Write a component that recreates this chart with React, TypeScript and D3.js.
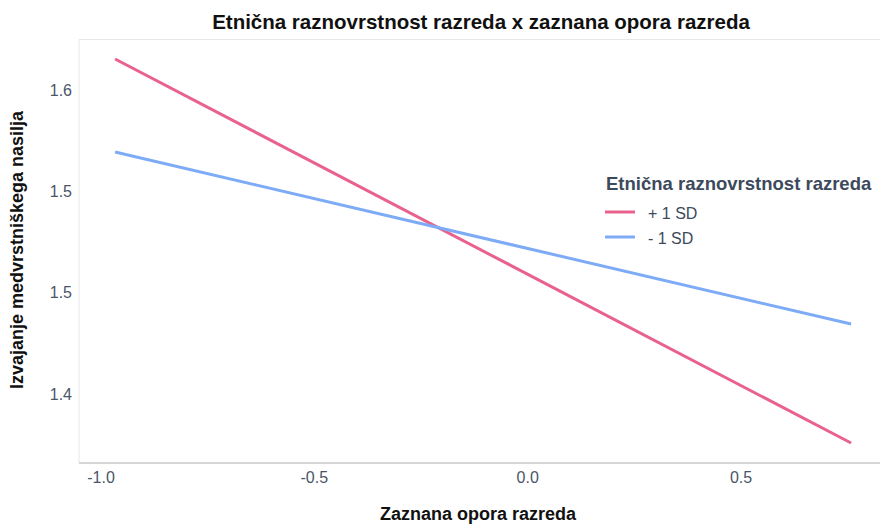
import React from "react";
import * as d3 from "d3";

const xValues = [-0.967, 0.758];
const seriesNames = ["+ 1 SD", "- 1 SD"];
const plusSD = [1.6153, 1.4258];
const minusSD = [1.5694, 1.4845];
const yTickValues = [1.6, 1.55, 1.5, 1.45];
const yTickLabels = ["1.6", "1.5", "1.5", "1.4"];
const xTickValues = [-1.0, -0.5, 0.0, 0.5];
const xTickLabels = ["-1.0", "-0.5", "0.0", "0.5"];
const colors = ["#e9628d", "#7eabf6"];

const W = 880, H = 524;
const left = 79, right = 880, top = 39.5, bottom = 463;

export default function App() {
  const x = d3.scaleLinear().domain([-1.0, 0.5]).range([101, 741]);
  const y = d3.scaleLinear().domain([1.6, 1.45]).range([90, 394]);
  const line = d3.line<[number, number]>().x(d => x(d[0])).y(d => y(d[1]));
  const series = [plusSD, minusSD];
  const font = "'Liberation Sans', Arial, sans-serif";
  return (
    <svg width={W} height={H} style={{ position: "absolute", left: 0, top: 0, background: "#fff" }} fontFamily={font}>
      <text x={481} y={29} textAnchor="middle" fontSize={20.5} fontWeight="bold" fill="#111">Etnična raznovrstnost razreda x zaznana opora razreda</text>
      <line x1={left} x2={right} y1={top} y2={top} stroke="#e6e6e6" strokeWidth={1} />
      <line x1={left} x2={left} y1={top} y2={bottom} stroke="#e6e6e6" strokeWidth={1} />
      <line x1={left} x2={right} y1={bottom} y2={bottom} stroke="#c9c9c9" strokeWidth={1.5} />
      {yTickValues.map((v, i) => (
        <text key={i} x={72} y={y(v)} dy="0.35em" textAnchor="end" fontSize={16} fill="#4a5668">{yTickLabels[i]}</text>
      ))}
      {xTickValues.map((v, i) => (
        <text key={i} x={x(v)} y={477} dy="0.35em" textAnchor="middle" fontSize={16} fill="#4a5668">{xTickLabels[i]}</text>
      ))}
      {series.map((s, i) => (
        <path key={i} d={line(xValues.map((xv, j) => [xv, s[j]]) as [number, number][]) || ""} stroke={colors[i]} strokeWidth={3} fill="none" />
      ))}
      <text x={478} y={520} textAnchor="middle" fontSize={18} fontWeight="bold" fill="#111">Zaznana opora razreda</text>
      <text transform="translate(23,250) rotate(-90)" textAnchor="middle" fontSize={18} fontWeight="bold" fill="#111">Izvajanje medvrstniškega nasilja</text>
      <text x={606} y={190} fontSize={18.5} fontWeight="bold" fill="#3d4a5c">Etnična raznovrstnost razreda</text>
      {seriesNames.map((n, i) => (
        <g key={i}>
          <line x1={605} x2={635} y1={212 + i * 25} y2={212 + i * 25} stroke={colors[i]} strokeWidth={3} />
          <text x={648} y={213 + i * 25} dy="0.35em" fontSize={16} fill="#3d4a5c">{n}</text>
        </g>
      ))}
    </svg>
  );
}
